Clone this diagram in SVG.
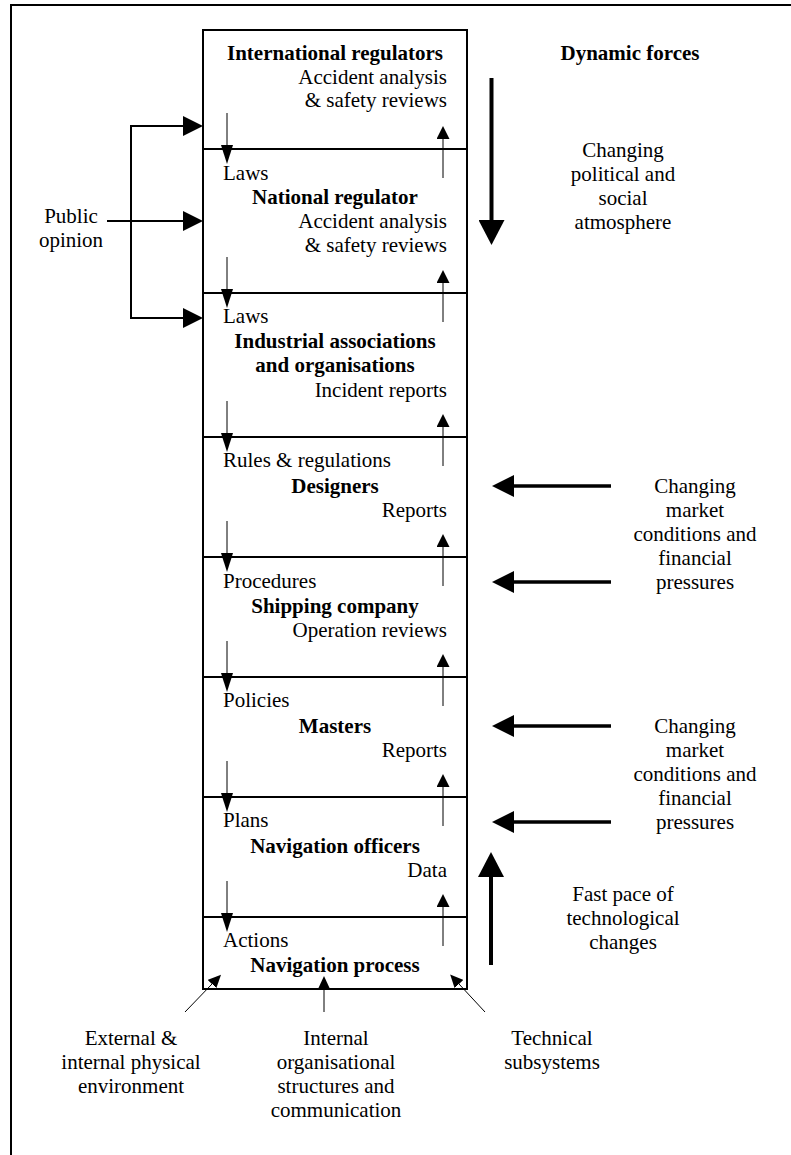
<svg xmlns="http://www.w3.org/2000/svg" width="791" height="1155" viewBox="0 0 791 1155">
<style>
  text { font-family: "Liberation Serif", "Times New Roman", serif; font-size: 21px; fill: #000; }
  .b { font-weight: bold; }
  .c { text-anchor: middle; }
  .r { text-anchor: end; }
  .frame { fill: none; stroke: #000; stroke-width: 2; }
  .div { stroke: #000; stroke-width: 2; }
  .thin { stroke: #000; stroke-width: 1; fill: none; }
  .med { stroke: #000; stroke-width: 2; fill: none; }
  .thick { stroke: #000; stroke-width: 3.3; fill: none; }
  .big { stroke: #000; stroke-width: 4; fill: none; }
</style>
<defs>
  <marker id="hDown" markerUnits="userSpaceOnUse" viewBox="0 0 19 12" markerWidth="19" markerHeight="12" refX="0" refY="6" orient="auto">
    <path d="M0,0 L19,6 L0,12 z" fill="#000"/>
  </marker>
  <marker id="hUp" markerUnits="userSpaceOnUse" viewBox="0 0 13 13" markerWidth="13" markerHeight="13" refX="0" refY="6.5" orient="auto">
    <path d="M0,0 L13,6.5 L0,13 z" fill="#000"/>
  </marker>
  <marker id="hPub" markerUnits="userSpaceOnUse" viewBox="0 0 20 20" markerWidth="20" markerHeight="20" refX="0" refY="10" orient="auto">
    <path d="M0,0 L20,10 L0,20 z" fill="#000"/>
  </marker>
  <marker id="hSide" markerUnits="userSpaceOnUse" viewBox="0 0 22 22" markerWidth="22" markerHeight="22" refX="0" refY="11" orient="auto">
    <path d="M0,0 L22,11 L0,22 z" fill="#000"/>
  </marker>
  <marker id="hBig" markerUnits="userSpaceOnUse" viewBox="0 0 25 26" markerWidth="25" markerHeight="26" refX="0" refY="13" orient="auto">
    <path d="M0,0 L25,13 L0,26 z" fill="#000"/>
  </marker>
  <marker id="hSmall" markerUnits="userSpaceOnUse" viewBox="0 0 13 12" markerWidth="13" markerHeight="12" refX="0" refY="6" orient="auto">
    <path d="M0,0 L13,6 L0,12 z" fill="#000"/>
  </marker>
</defs>

<!-- outer frame (open at right/bottom) -->
<path class="frame" d="M11,1160 V5 H800"/>

<!-- main column -->
<g id="column">
  <rect class="frame" x="203" y="30" width="264" height="959"/>
  <line class="div" x1="203" y1="149" x2="467" y2="149"/>
  <line class="div" x1="203" y1="293" x2="467" y2="293"/>
  <line class="div" x1="203" y1="437" x2="467" y2="437"/>
  <line class="div" x1="203" y1="557" x2="467" y2="557"/>
  <line class="div" x1="203" y1="677" x2="467" y2="677"/>
  <line class="div" x1="203" y1="797" x2="467" y2="797"/>
  <line class="div" x1="203" y1="917" x2="467" y2="917"/>
</g>

<g id="international-regulators">
  <text class="b c" x="335" y="60">International regulators</text>
  <text class="r" x="447" y="84">Accident analysis</text>
  <text class="r" x="447" y="107">&amp; safety reviews</text>
</g>
<g id="national-regulator">
  <text x="223" y="180">Laws</text>
  <text class="b c" x="335" y="204">National regulator</text>
  <text class="r" x="447" y="228">Accident analysis</text>
  <text class="r" x="447" y="252">&amp; safety reviews</text>
</g>
<g id="industrial-associations">
  <text x="223" y="323">Laws</text>
  <text class="b c" x="335" y="348">Industrial associations</text>
  <text class="b c" x="335" y="372">and organisations</text>
  <text class="r" x="447" y="397">Incident reports</text>
</g>
<g id="designers">
  <text x="223" y="467">Rules &amp; regulations</text>
  <text class="b c" x="335" y="493">Designers</text>
  <text class="r" x="447" y="517">Reports</text>
</g>
<g id="shipping-company">
  <text x="223" y="588">Procedures</text>
  <text class="b c" x="335" y="613">Shipping company</text>
  <text class="r" x="447" y="637">Operation reviews</text>
</g>
<g id="masters">
  <text x="223" y="707">Policies</text>
  <text class="b c" x="335" y="733">Masters</text>
  <text class="r" x="447" y="757">Reports</text>
</g>
<g id="navigation-officers">
  <text x="223" y="827">Plans</text>
  <text class="b c" x="335" y="853">Navigation officers</text>
  <text class="r" x="447" y="877">Data</text>
</g>
<g id="navigation-process">
  <text x="223" y="947">Actions</text>
  <text class="b c" x="335" y="972">Navigation process</text>
</g>

<g id="public-opinion">
  <text class="c" x="71" y="223">Public</text>
  <text class="c" x="71" y="247">opinion</text>
</g>

<g id="dynamic-forces">
  <text class="b c" x="630" y="60">Dynamic forces</text>
</g>
<g id="political">
  <text class="c" x="623" y="157">Changing</text>
  <text class="c" x="623" y="181">political and</text>
  <text class="c" x="623" y="205">social</text>
  <text class="c" x="623" y="229">atmosphere</text>
</g>
<g id="market-1">
  <text class="c" x="695" y="493">Changing</text>
  <text class="c" x="695" y="517">market</text>
  <text class="c" x="695" y="541">conditions and</text>
  <text class="c" x="695" y="565">financial</text>
  <text class="c" x="695" y="589">pressures</text>
</g>
<g id="market-2">
  <text class="c" x="695" y="733">Changing</text>
  <text class="c" x="695" y="757">market</text>
  <text class="c" x="695" y="781">conditions and</text>
  <text class="c" x="695" y="805">financial</text>
  <text class="c" x="695" y="829">pressures</text>
</g>
<g id="technology">
  <text class="c" x="623" y="901">Fast pace of</text>
  <text class="c" x="623" y="925">technological</text>
  <text class="c" x="623" y="949">changes</text>
</g>
<g id="physical-environment">
  <text class="c" x="131" y="1045">External &amp;</text>
  <text class="c" x="131" y="1069">internal physical</text>
  <text class="c" x="131" y="1093">environment</text>
</g>
<g id="organisational-structures">
  <text class="c" x="336" y="1045">Internal</text>
  <text class="c" x="336" y="1069">organisational</text>
  <text class="c" x="336" y="1093">structures and</text>
  <text class="c" x="336" y="1117">communication</text>
</g>
<g id="technical-subsystems">
  <text class="c" x="552" y="1045">Technical</text>
  <text class="c" x="552" y="1069">subsystems</text>
</g>

<g id="connectors">
  <!-- downward control arrows -->
  <line class="thin" x1="227" y1="113" x2="227" y2="145" marker-end="url(#hDown)"/>
  <line class="thin" x1="227" y1="257" x2="227" y2="289" marker-end="url(#hDown)"/>
  <line class="thin" x1="227" y1="401" x2="227" y2="433" marker-end="url(#hDown)"/>
  <line class="thin" x1="227" y1="521" x2="227" y2="553" marker-end="url(#hDown)"/>
  <line class="thin" x1="227" y1="641" x2="227" y2="673" marker-end="url(#hDown)"/>
  <line class="thin" x1="227" y1="761" x2="227" y2="793" marker-end="url(#hDown)"/>
  <line class="thin" x1="227" y1="881" x2="227" y2="913" marker-end="url(#hDown)"/>
  <!-- upward feedback arrows -->
  <line class="thin" x1="443" y1="178" x2="443" y2="139" marker-end="url(#hUp)"/>
  <line class="thin" x1="443" y1="322" x2="443" y2="283" marker-end="url(#hUp)"/>
  <line class="thin" x1="443" y1="466" x2="443" y2="427" marker-end="url(#hUp)"/>
  <line class="thin" x1="443" y1="586" x2="443" y2="547" marker-end="url(#hUp)"/>
  <line class="thin" x1="443" y1="706" x2="443" y2="667" marker-end="url(#hUp)"/>
  <line class="thin" x1="443" y1="826" x2="443" y2="787" marker-end="url(#hUp)"/>
  <line class="thin" x1="443" y1="946" x2="443" y2="907" marker-end="url(#hUp)"/>
  <!-- public opinion -->
  <line class="med" x1="107" y1="221" x2="183" y2="221" marker-end="url(#hPub)"/>
  <path class="med" d="M131,126 V318"/>
  <line class="med" x1="130" y1="126" x2="183" y2="126" marker-end="url(#hPub)"/>
  <line class="med" x1="130" y1="318" x2="183" y2="318" marker-end="url(#hPub)"/>
  <!-- dynamic forces -->
  <line class="big" x1="491.5" y1="78" x2="491.5" y2="220" marker-end="url(#hBig)"/>
  <line class="thick" x1="611" y1="486" x2="514" y2="486" marker-end="url(#hSide)"/>
  <line class="thick" x1="611" y1="582" x2="514" y2="582" marker-end="url(#hSide)"/>
  <line class="thick" x1="611" y1="726" x2="514" y2="726" marker-end="url(#hSide)"/>
  <line class="thick" x1="611" y1="822" x2="514" y2="822" marker-end="url(#hSide)"/>
  <line class="big" x1="491" y1="965" x2="491" y2="877" marker-end="url(#hBig)"/>
  <!-- inputs to navigation process -->
  <line class="thin" x1="185" y1="1012" x2="212" y2="984" marker-end="url(#hSmall)"/>
  <line class="thin" x1="324" y1="1012" x2="324" y2="989" marker-end="url(#hSmall)"/>
  <line class="thin" x1="485" y1="1012" x2="459" y2="984" marker-end="url(#hSmall)"/>
</g>
</svg>
